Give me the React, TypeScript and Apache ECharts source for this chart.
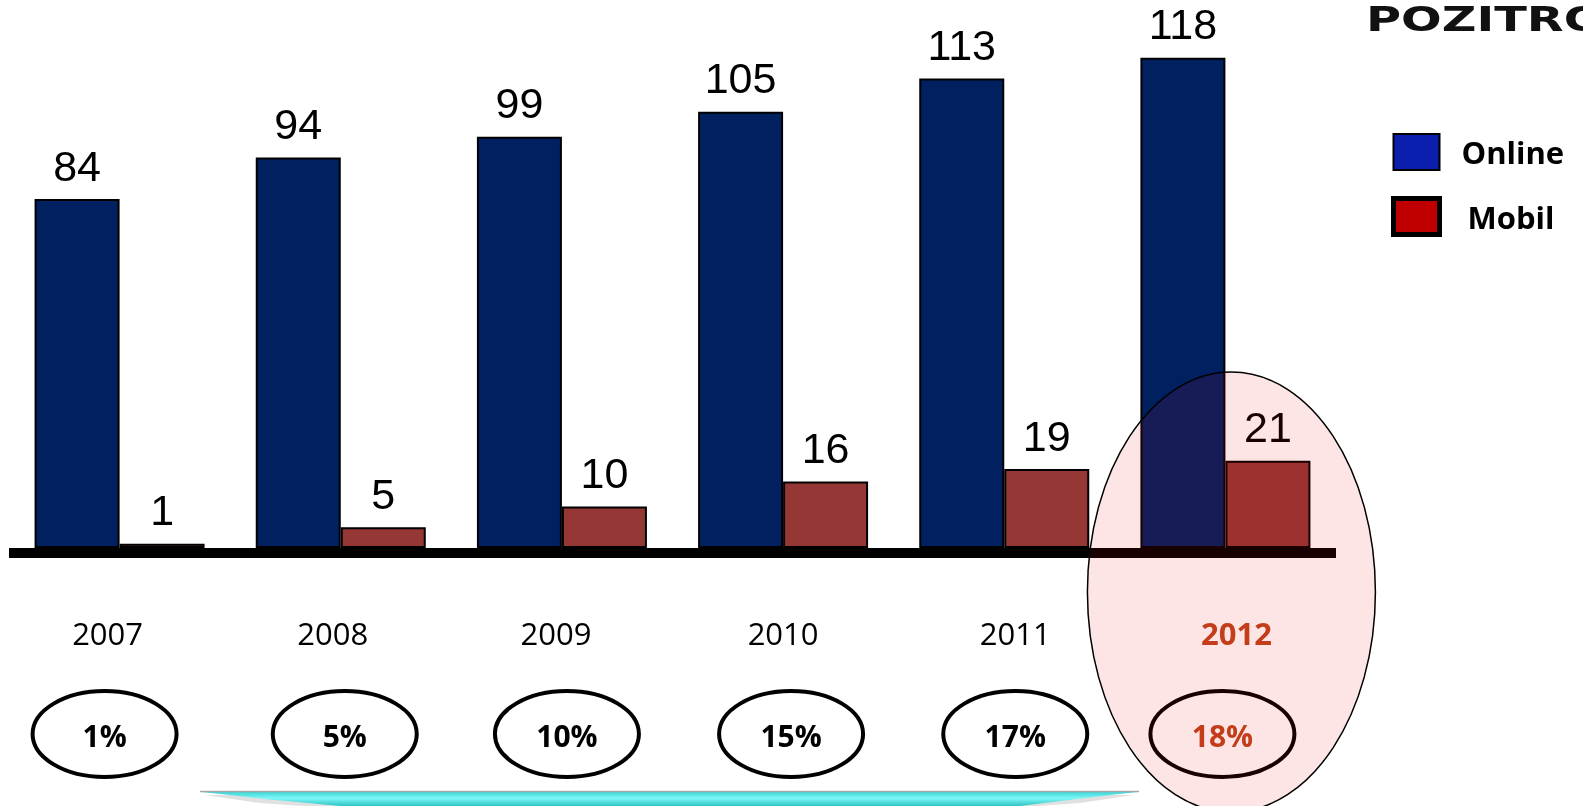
import React, { useEffect, useRef } from "react";
import * as echarts from "echarts";

// ---- data ----
const years = ["2007", "2008", "2009", "2010", "2011", "2012"];
const online = [84, 94, 99, 105, 113, 118];
const mobil = [1, 5, 10, 16, 19, 21];
const mobilShare = ["1%", "5%", "10%", "15%", "17%", "18%"];
const highlightYear = "2012";

// ---- layout ----
const W = 1583;
const H = 806;
const yearShift = [-12, -8, -6, 0, 11, 11];
const pctShift = [-15, 4, 5, 8, 11, -3];
const PCT_Y = 734;
const ORANGE = "#c0451f";

export default function App() {
  const ref = useRef<HTMLDivElement>(null);
  useEffect(() => {
    const chart = echarts.init(ref.current!, null, { renderer: "svg" });
    const rich: Record<string, any> = {};
    years.forEach((y, i) => {
      const s = yearShift[i];
      rich["y" + i] = {
        fontFamily: "Open Sans",
        fontSize: 31,
        color: y === highlightYear ? ORANGE : "#000",
        fontWeight: y === highlightYear ? "bold" : "normal",
        padding: s > 0 ? [0, 0, 0, 2 * s] : [0, -2 * s, 0, 0],
      };
    });
    const labelStyle = {
      show: true,
      position: "top",
      distance: 12,
      fontFamily: "Liberation Sans, Arial",
      fontSize: 43,
      color: "#000",
    };
    const legendText = {
      fontFamily: "Open Sans",
      fontWeight: "bold",
      fontSize: 31,
      color: "#000",
    };
    chart.setOption({
      animation: false,
      grid: { left: 9, right: W - 1336, top: 8, bottom: 258 },
      legend: {
        orient: "vertical",
        left: 1386,
        top: 128,
        itemWidth: 46,
        itemHeight: 36,
        itemGap: 25,
        selectedMode: false,
        formatter: (name: string) => (name === "Mobil" ? `{m|${name}}` : `{o|${name}}`),
        textStyle: {
          ...legendText,
          rich: {
            o: { ...legendText, padding: [0, 0, 0, 17] },
            m: { ...legendText, padding: [0, 0, 0, 23] },
          },
        },
        data: [
          { name: "Online", icon: "rect", itemStyle: { color: "#0a1fad", borderColor: "#000", borderWidth: 2 } },
          { name: "Mobil", icon: "rect", itemStyle: { color: "#c00000", borderColor: "#000", borderWidth: 5 } },
        ],
      },
      xAxis: {
        type: "category",
        data: years,
        offset: 5,
        axisLine: { onZero: false, lineStyle: { color: "#000", width: 10, cap: "butt" } },
        axisTick: { show: false },
        axisLabel: {
          interval: 0,
          margin: 64,
          formatter: (v: string, i: number) => `{y${i}|${v}}`,
          rich,
        },
      },
      yAxis: { type: "value", min: 0, max: 130, show: false },
      series: [
        {
          name: "Online",
          type: "bar",
          data: online,
          barWidth: 85,
          barGap: "0%",
          itemStyle: { color: "#002060", borderColor: "#000", borderWidth: 2 },
          label: labelStyle,
        },
        {
          name: "Mobil",
          type: "bar",
          data: mobil,
          barWidth: 85,
          itemStyle: { color: "#953735", borderColor: "#000", borderWidth: 2 },
          label: labelStyle,
        },
      ],
    });

    const xs = years.map((y) => chart.convertToPixel({ xAxisIndex: 0 }, y) as number);
    const graphic: any[] = [];
    years.forEach((y, i) => {
      const cx = xs[i] + pctShift[i];
      const hl = y === highlightYear;
      graphic.push({
        type: "ellipse",
        z: 10,
        shape: { cx, cy: PCT_Y, rx: 72, ry: 43 },
        style: { fill: "none", stroke: "#000", lineWidth: 4 },
      });
      graphic.push({
        type: "text",
        z: 11,
        x: cx,
        y: PCT_Y + 1,
        style: {
          text: mobilShare[i],
          fill: hl ? ORANGE : "#000",
          fontFamily: "Open Sans",
          fontWeight: "bold",
          fontSize: 30,
          align: "center",
          verticalAlign: "middle",
        },
      });
    });
    // highlight ellipse over 2012
    const hx = xs[years.indexOf(highlightYear)] + 6;
    graphic.push({
      type: "ellipse",
      z: 100,
      shape: { cx: hx, cy: 592, rx: 144, ry: 220 },
      style: { fill: "rgba(240,0,0,0.1)", stroke: "#000", lineWidth: 1.5 },
    });
    // cyan ribbon at the bottom
    graphic.push({
      type: "polygon",
      z: 5,
      shape: { points: [[205, 795], [1134, 795], [1080, 803], [1010, 808], [330, 808], [260, 803]] },
      style: { fill: "rgba(0,0,0,0.12)" },
    });
    graphic.push({
      type: "polygon",
      z: 6,
      shape: { points: [[202, 792], [1137, 792], [1085, 798], [1020, 806], [340, 806], [265, 799]] },
      style: {
        fill: new echarts.graphic.LinearGradient(0, 0, 0, 1, [
          { offset: 0, color: "#3fd6d6" },
          { offset: 0.45, color: "#7ff7f7" },
          { offset: 1, color: "#2ec4c4" },
        ]),
      },
    });
    graphic.push({
      type: "line",
      z: 7,
      shape: { x1: 200, y1: 791.5, x2: 1139, y2: 791.5 },
      style: { stroke: "#a8a8a8", lineWidth: 1.5 },
    });
    // logo
    graphic.push({
      type: "text",
      z: 20,
      x: 1366,
      y: 3,
      scaleX: 1.45,
      style: {
        text: "POZITRON",
        fill: "#111",
        fontFamily: "DejaVu Sans",
        fontWeight: 900,
        fontSize: 33,
        verticalAlign: "top",
      },
    });
    chart.setOption({ graphic });
    return () => chart.dispose();
  }, []);
  return <div ref={ref} style={{ position: "fixed", left: 0, top: 0, width: W, height: H }} />;
}
